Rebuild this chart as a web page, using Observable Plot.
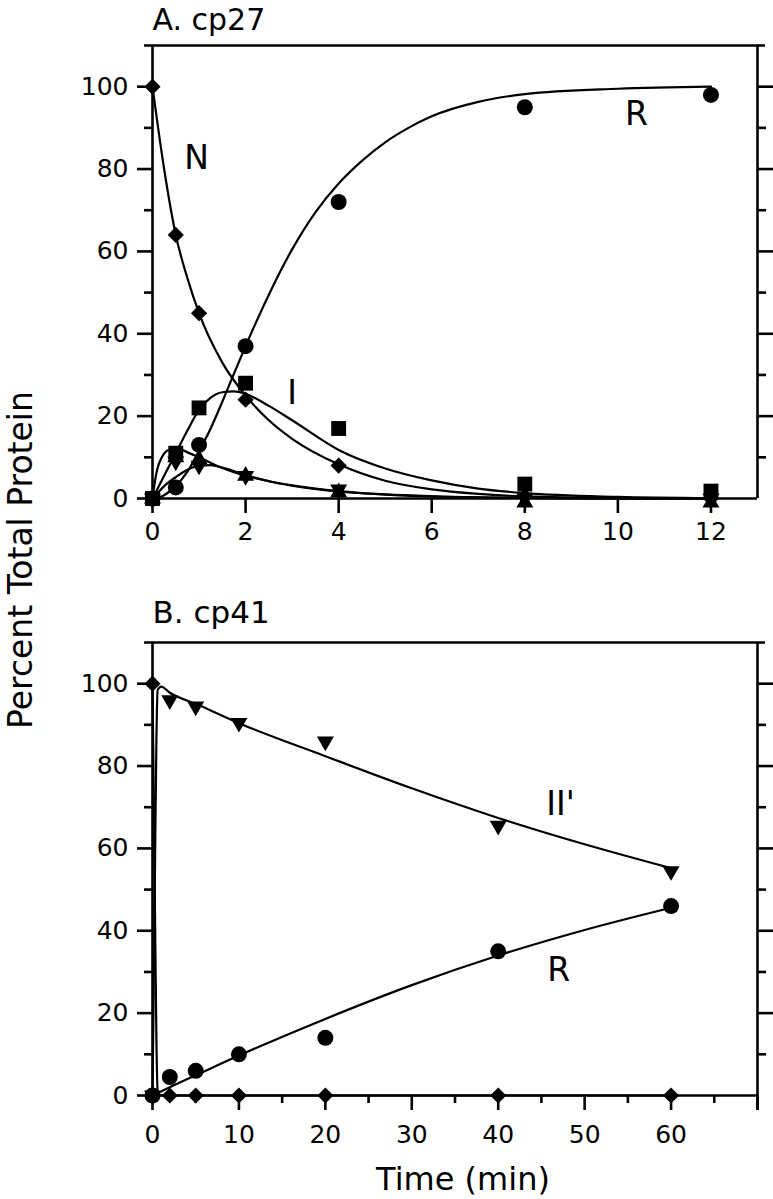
<!DOCTYPE html>
<html>
<head>
<meta charset="utf-8">
<script src="https://cdn.jsdelivr.net/npm/d3@7"></script>
<script src="https://cdn.jsdelivr.net/npm/@observablehq/plot@0.6"></script>
<style>
  body { margin: 0; background: #fff; }
  #wrap { position: relative; width: 773px; height: 1199px; background: #fff; overflow: hidden; }
  #a { position: absolute; left: 0; top: 0; }
  #b { position: absolute; left: 0; top: 580px; }
  #ylab { position: absolute; left: 32px; top: 560px; font-family: "DejaVu Sans"; font-size: 33px;
          line-height: 33px; white-space: nowrap; color: #000;
          transform-origin: 0 0; transform: rotate(-90deg) translate(-50%, -28px); }
</style>
</head>
<body>
<div id="wrap">
  <div id="a"></div>
  <div id="b"></div>
  <div id="ylab">Percent Total Protein</div>
</div>
<script>
// ---------- Panel A: cp27 (time in min) ----------
const timeA = [0, 0.5, 1, 2, 4, 8, 12];
const nativeA = [100, 64, 45, 24, 8, 0.5, 0];          // diamonds (N)
const refoldedA = [0, 2.7, 13, 37, 72, 95, 98];        // circles (R)
const intermA = [0, 11, 22, 28, 17, 3.5, 1.8];         // squares (I)
const triUpA = [0, 10, 9.5, 5.5, 1.5, -1, -1];         // up triangles
const triDownA = [0, 9, 8, 5.5, 2.2, 0, 0];            // down triangles

// fitted curves
const fitNTimeA = [0, 0.25, 0.5, 0.75, 1, 1.5, 2, 2.5, 3, 4, 5, 6, 7, 8, 10, 12];
const fitNA = [100, 80, 64, 53.5, 45, 33, 25, 19, 14.5, 8.3, 4.3, 2.2, 1.1, 0.5, 0.1, 0];
const fitITimeA = [0, 0.1, 0.25, 0.5, 0.75, 1, 1.25, 1.5, 1.75, 2, 2.5, 3, 4, 5, 6, 7, 8, 10, 12];
const fitIA = [0, 2.2, 5.5, 11, 16.5, 21.5, 24.5, 25.8, 26, 25.4, 22.5, 19, 11.8, 7.3, 4.4, 2.4, 1.3, 0.4, 0.1];
const fitRTimeA = [0, 0.25, 0.5, 0.75, 1, 1.25, 1.5, 1.75, 2, 2.5, 3, 3.5, 4, 4.5, 5, 5.5, 6, 7, 8, 10, 12];
const fitRA = [0, 0.8, 3, 6.5, 11.5, 17, 23.5, 30.3, 37, 49.5, 60.5, 69.5, 76.5, 82, 86.5, 90, 92.8, 96.3, 98.2, 99.5, 100];
const fitFastTimeA = [0, 0.05, 0.1, 0.2, 0.3, 0.5, 0.75, 1, 1.5, 2, 2.5, 3, 4, 5, 6, 8, 10, 12];
const fitFastA = [0, 4, 7, 10, 11.5, 12.3, 11.2, 10, 7.4, 5.5, 4.2, 3.2, 1.8, 1, 0.55, 0.15, 0.05, 0];
const fitSlowTimeA = [0, 0.1, 0.25, 0.5, 0.75, 1, 1.25, 1.5, 2, 2.5, 3, 4, 5, 6, 8, 10, 12];
const fitSlowA = [0, 1.2, 3, 5.2, 7, 8, 8.1, 7.5, 5.7, 4.2, 3.1, 1.7, 0.95, 0.5, 0.15, 0.05, 0];

const labelTextA = ["N", "I", "R"];
const labelTimeA = [0.95, 3.0, 10.4];
const labelValueA = [82.6, 25.4, 93.2];

const xTicksA = [0, 2, 4, 6, 8, 10, 12];

// ---------- Panel B: cp41 ----------
const timeB = [0, 2, 5, 10, 20, 40, 60];
const nativeB = [100, 0, 0, 0, 0, 0, 0];               // diamonds (N)
const refoldedB = [0, 4.5, 6, 10, 14, 35, 46];          // circles (R)
const iiPrimeB = [0, 96, 94.5, 90.5, 86, 65.5, 54.5];   // down triangles (II')

const fitNTimeB = [0, 0.15, 0.3, 0.45, 0.6, 1, 60];
const fitNB = [100, 72, 42, 14, 1, 0, 0];
const fitIITimeB = [0, 0.15, 0.3, 0.45, 0.6, 1, 2, 5, 10, 20, 30, 40, 50, 60];
const fitIIB = [0, 28, 58, 86, 98.5, 99.3, 97.8, 95.1, 90.4, 82.4, 74.6, 67.4, 61, 55.2];
const fitRTimeB = [0, 1, 2, 5, 10, 20, 30, 40, 50, 60];
const fitRB = [0, 1, 2, 4.9, 9.7, 18.6, 26.8, 34, 40.2, 45.6];

const labelTextB = ["II'", "R"];
const labelTimeB = [47.2, 47.0];
const labelValueB = [70.7, 30.4];

const xTicksB = [0, 10, 20, 30, 40, 50, 60, 70];
const xMinorB = [5, 15, 25, 35, 45, 55, 65];

const yMajor = [0, 20, 40, 60, 80, 100];
const yMajorRight = [20, 40, 60, 80, 100];
const yMinor = [10, 30, 50, 70, 90];

// ---------- helpers ----------
const rows = (xs, ys) => xs.map((x, i) => ({x, y: ys[i]}));
const labels = (ts, xs, ys) => ts.map((t, i) => ({t, x: xs[i], y: ys[i]}));
const SW = 2.6;
const font = "DejaVu Sans";

function frameMarks(xMax, extendRight) {
  return [
    Plot.ruleX([0], {strokeWidth: SW}),
    Plot.ruleX([xMax], {strokeWidth: SW, insetBottom: extendRight ? -15 : 0}),
    Plot.ruleY([110], {strokeWidth: SW, insetLeft: -8, insetRight: -8}),
    Plot.ruleY([0], {strokeWidth: SW}),
    Plot.axisY({ticks: yMajor, tickSize: 15, tickPadding: 9, fontSize: 25, strokeWidth: SW, label: null}),
    Plot.axisY({ticks: yMinor, tickSize: 8, tickFormat: () => "", strokeWidth: SW, label: null}),
    Plot.axisY({anchor: "right", ticks: yMajorRight, tickSize: 15, tickFormat: () => "", strokeWidth: SW, label: null}),
    Plot.axisY({anchor: "right", ticks: yMinor, tickSize: 8, tickFormat: () => "", strokeWidth: SW, label: null})
  ];
}

const lineOpts = {x: "x", y: "y", curve: "monotone-x", strokeWidth: 2.2, stroke: "black"};

const plotA = Plot.plot({
  width: 773, height: 580,
  marginLeft: 152, marginRight: 16, marginTop: 45, marginBottom: 82,
  x: {domain: [0, 13]},
  y: {domain: [0, 110]},
  style: {fontFamily: font, color: "black", background: "white", overflow: "visible"},
  marks: [
    ...frameMarks(13, false),
    Plot.axisX({ticks: xTicksA, tickSize: 15, tickPadding: 9, fontSize: 25, strokeWidth: SW, label: null}),
    Plot.line(rows(fitNTimeA, fitNA), lineOpts),
    Plot.line(rows(fitITimeA, fitIA), lineOpts),
    Plot.line(rows(fitRTimeA, fitRA), lineOpts),
    Plot.line(rows(fitFastTimeA, fitFastA), lineOpts),
    Plot.line(rows(fitSlowTimeA, fitSlowA), lineOpts),
    Plot.dot(rows(timeA, triUpA), {x: "x", y: "y", symbol: "triangle", r: 6.3, fill: "black"}),
    Plot.dot(rows(timeA, triDownA), {x: "x", y: "y", symbol: "triangle", rotate: 180, r: 6.3, fill: "black"}),
    Plot.dot(rows(timeA, intermA), {x: "x", y: "y", symbol: "square", r: 8.4, fill: "black"}),
    Plot.dot(rows(timeA, refoldedA), {x: "x", y: "y", symbol: "circle", r: 8, fill: "black"}),
    Plot.dot(rows(timeA, nativeA), {x: "x", y: "y", symbol: "diamond2", r: 7.3, fill: "black"}),
    Plot.text(labels(labelTextA, labelTimeA, labelValueA), {x: "x", y: "y", text: "t", fontSize: 33, lineAnchor: "middle", fill: "black"}),
    Plot.text(["A. cp27"], {text: d => d, frameAnchor: "top-left", textAnchor: "start", lineAnchor: "bottom", dy: -16, fontSize: 30, fill: "black"})
  ]
});
document.getElementById("a").appendChild(plotA);

const plotB = Plot.plot({
  width: 773, height: 619,
  marginLeft: 152, marginRight: 16, marginTop: 62, marginBottom: 104,
  x: {domain: [0, 70]},
  y: {domain: [0, 110]},
  style: {fontFamily: font, color: "black", background: "white", overflow: "visible"},
  marks: [
    ...frameMarks(70, true),
    Plot.axisX({ticks: xTicksB, tickSize: 15, tickPadding: 15, fontSize: 25, strokeWidth: SW, label: null,
                tickFormat: d => (d === 70 ? "" : d)}),
    Plot.axisX({ticks: xMinorB, tickSize: 8, tickFormat: () => "", strokeWidth: SW, label: null}),
    Plot.line(rows(fitNTimeB, fitNB), lineOpts),
    Plot.line(rows(fitIITimeB, fitIIB), lineOpts),
    Plot.line(rows(fitRTimeB, fitRB), lineOpts),
    Plot.dot(rows(timeB, iiPrimeB), {x: "x", y: "y", symbol: "triangle", rotate: 180, r: 6.3, fill: "black"}),
    Plot.dot(rows(timeB, refoldedB), {x: "x", y: "y", symbol: "circle", r: 8, fill: "black"}),
    Plot.dot(rows(timeB, nativeB), {x: "x", y: "y", symbol: "diamond2", r: 7.3, fill: "black"}),
    Plot.text(labels(labelTextB, labelTimeB, labelValueB), {x: "x", y: "y", text: "t", fontSize: 33, lineAnchor: "middle", fill: "black"}),
    Plot.text(["B. cp41"], {text: d => d, frameAnchor: "top-left", textAnchor: "start", lineAnchor: "bottom", dy: -20, fontSize: 31, fill: "black"}),
    Plot.text(["Time (min)"], {text: d => d, frameAnchor: "bottom", textAnchor: "middle", lineAnchor: "bottom", dx: 8, dy: 94, fontSize: 32, fill: "black"})
  ]
});
document.getElementById("b").appendChild(plotB);
</script>
</body>
</html>
